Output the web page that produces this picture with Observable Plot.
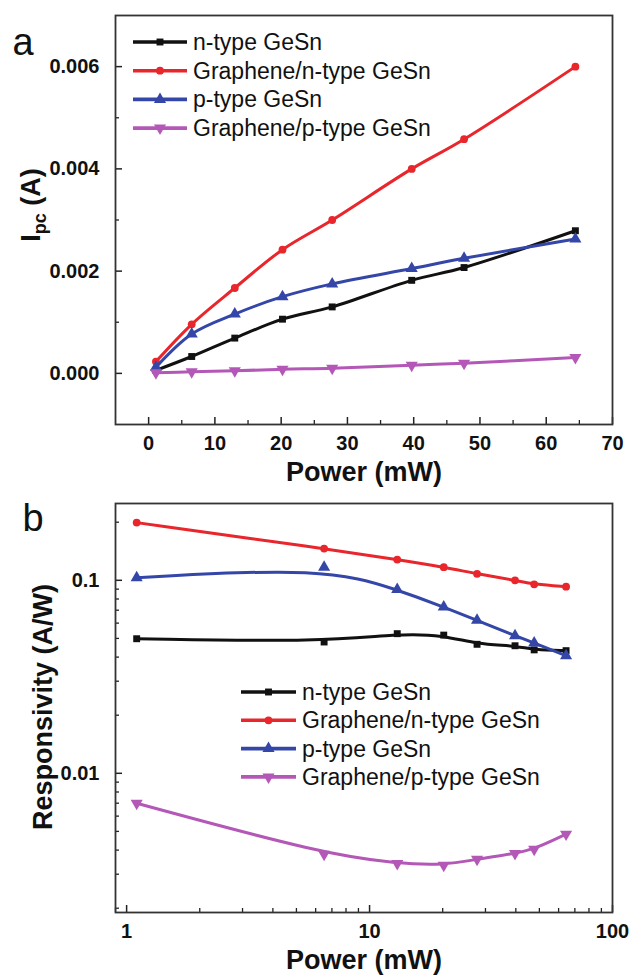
<!DOCTYPE html>
<html><head><meta charset="utf-8">
<script src="https://cdn.jsdelivr.net/npm/d3@7"></script>
<script src="https://cdn.jsdelivr.net/npm/@observablehq/plot@0.6"></script>
<style>
body{margin:0;background:#fff}
#chart{width:631px}
#chart svg{display:block}
</style>
</head><body><div id="chart"></div>
<script>
// ---- data ----
const power = [1.1, 6.5, 13.0, 20.2, 27.7, 39.7, 47.6, 64.4];
const seriesNames = ["n-type GeSn", "Graphene/n-type GeSn", "p-type GeSn", "Graphene/p-type GeSn"];
const seriesColors = ["#111111", "#e8262b", "#3446a8", "#b458b8"];
const ipcN   = [0.00006, 0.00033, 0.00069, 0.00106, 0.00130, 0.00182, 0.00207, 0.00279];
const ipcGrN = [0.00023, 0.00096, 0.00167, 0.00242, 0.00300, 0.00400, 0.00458, 0.00600];
const ipcP   = [0.00012, 0.00077, 0.00116, 0.00150, 0.00175, 0.00205, 0.00225, 0.00263];
const ipcGrP = [0.00001, 0.00003, 0.00005, 0.00008, 0.00010, 0.00016, 0.00020, 0.00031];
const respN   = [0.0498, 0.0479, 0.0529, 0.0520, 0.0466, 0.0458, 0.0436, 0.0432];
const respGrN = [0.199, 0.146, 0.128, 0.117, 0.108, 0.100, 0.0953, 0.0927];
const respP   = [0.103, 0.117, 0.0895, 0.0727, 0.062, 0.0516, 0.0473, 0.0407];
const respGrP = [0.00699, 0.00381, 0.00341, 0.00334, 0.00359, 0.00384, 0.00404, 0.00484];

const ticksAX = [0, 10, 20, 30, 40, 50, 60, 70];
const minorAX = [5, 15, 25, 35, 45, 55, 65];
const ticksAY = [0, 0.002, 0.004, 0.006];
const minorAY = [0.001, 0.003, 0.005];
const ticksBX = [1, 10, 100];
const minorBX = [0.9, 2, 3, 4, 5, 6, 7, 8, 9, 20, 30, 40, 50, 60, 70, 80, 90];
const ticksBY = [0.01, 0.1];
const minorBY = [0.002, 0.003, 0.004, 0.005, 0.006, 0.007, 0.008, 0.009, 0.02, 0.03, 0.04, 0.05, 0.06, 0.07, 0.08, 0.09, 0.2];

// ---- symbols ----
const sqrt3 = Math.sqrt(3);
const triangleDown = {
  draw(context, size) {
    const y = Math.sqrt(size / (sqrt3 * 3));
    context.moveTo(0, y * 2);
    context.lineTo(-sqrt3 * y, -y);
    context.lineTo(sqrt3 * y, -y);
    context.closePath();
  }
};
const seriesSymbols = [d3.symbolSquare, d3.symbolCircle, d3.symbolTriangle, triangleDown];
const seriesR = [3.9, 3.9, 4.5, 4.5];

const FONT = "'Liberation Sans', Arial, Helvetica, sans-serif";
const ipcSeries = [ipcN, ipcGrN, ipcP, ipcGrP];
const respSeries = [respN, respGrN, respP, respGrP];

function table(series) {
  const rows = [];
  series.forEach((vals, i) => vals.forEach((v, j) => rows.push({series: seriesNames[i], power: power[j], value: v})));
  return rows;
}

function seriesMarks(rows, curve) {
  const marks = [];
  seriesNames.forEach((name, i) => {
    const d = rows.filter(r => r.series === name);
    marks.push(Plot.line(d, {x: "power", y: "value", stroke: seriesColors[i], strokeWidth: 3, curve}));
    marks.push(Plot.dot(d, {x: "power", y: "value", fill: seriesColors[i], stroke: "none", symbol: seriesSymbols[i], r: seriesR[i]}));
  });
  return marks;
}

function axisMarks(xt, xm, yt, ym, xfmt, yfmt) {
  const txt = {fontSize: 20, fontWeight: "bold", fill: "#111"};
  const blank = () => "";
  return [
    // tick labels
    Plot.axisX({ticks: xt, tickSize: 0, tickPadding: 11, tickFormat: xfmt, label: null, ...txt}),
    Plot.axisY({ticks: yt, tickSize: 0, tickPadding: 16, tickFormat: yfmt, label: null, ...txt}),
    // inward tick marks
    Plot.axisX({ticks: xt, tickSize: 7, dy: -7, tickFormat: blank, label: null, stroke: "#222", strokeWidth: 1.5}),
    Plot.axisX({ticks: xm, tickSize: 4, dy: -4, tickFormat: blank, label: null, stroke: "#222", strokeWidth: 1.3}),
    Plot.axisY({ticks: yt, tickSize: 7, dx: 7, tickFormat: blank, label: null, stroke: "#222", strokeWidth: 1.5}),
    Plot.axisY({ticks: ym, tickSize: 4, dx: 4, tickFormat: blank, label: null, stroke: "#222", strokeWidth: 1.3})
  ];
}

function addLegend(svg, x1, x2, tx, y0, dy) {
  const g = d3.select(svg).append("g").attr("font-family", FONT).attr("font-size", 23).attr("text-anchor", "start");
  seriesNames.forEach((name, i) => {
    const y = y0 + i * dy;
    g.append("line").attr("x1", x1).attr("x2", x2).attr("y1", y).attr("y2", y)
      .attr("stroke", seriesColors[i]).attr("stroke-width", 3.6);
    g.append("path").attr("transform", `translate(${(x1 + x2) / 2},${y})`)
      .attr("d", d3.symbol(seriesSymbols[i], Math.PI * seriesR[i] * seriesR[i])())
      .attr("fill", seriesColors[i]);
    g.append("text").attr("x", tx).attr("y", y).attr("dy", "0.35em").attr("fill", "#111").text(name);
  });
}

function addYTitle(svg, x, y, parts) {
  const t = d3.select(svg).append("text")
    .attr("transform", `translate(${x},${y}) rotate(-90)`)
    .attr("text-anchor", "middle").attr("font-family", FONT)
    .attr("font-size", 27).attr("font-weight", "bold").attr("fill", "#111");
  parts.forEach(p => {
    const s = t.append("tspan").text(p.text);
    if (p.size) s.attr("font-size", p.size);
    if (p.dy) s.attr("dy", p.dy);
  });
}

const chart = document.getElementById("chart");

// ---- panel a ----
const plotA = Plot.plot({
  width: 631, height: 485,
  marginLeft: 115, marginRight: 19, marginTop: 15, marginBottom: 61,
  style: {fontFamily: FONT, background: "#fff", color: "#222", overflow: "visible"},
  x: {domain: [-5, 70]},
  y: {domain: [-0.001, 0.007]},
  marks: [
    ...axisMarks(ticksAX, minorAX, ticksAY, minorAY, d => String(d), d3.format(".3f")),
    ...seriesMarks(table(ipcSeries), "catmull-rom"),
    Plot.frame({stroke: "#333", strokeWidth: 1.8}),
    Plot.text(["Power (mW)"], {frameAnchor: "bottom", dy: 48, lineAnchor: "middle", fontSize: 27, fontWeight: "bold", fill: "#111"}),
    Plot.text(["a"], {frameAnchor: "top-left", dx: -103, dy: 27, textAnchor: "start", lineAnchor: "middle", fontSize: 38, fill: "#111"})
  ]
});
chart.appendChild(plotA);
addLegend(plotA, 133, 187, 193, 42, 28.7);
addYTitle(plotA, 40, 205, [{text: "I"}, {text: "pc", size: 18, dy: 6}, {text: " (A)", dy: -6}]);

// ---- panel b ----
const plotB = Plot.plot({
  width: 631, height: 492,
  marginLeft: 115, marginRight: 19, marginTop: 18, marginBottom: 65,
  style: {fontFamily: FONT, background: "#fff", color: "#222", overflow: "visible"},
  x: {type: "log", domain: [0.9, 100]},
  y: {type: "log", domain: [0.0019, 0.25]},
  marks: [
    ...axisMarks(ticksBX, minorBX, ticksBY, minorBY, d => String(d), d => String(d)),
    ...seriesMarks(table(respSeries), "basis"),
    Plot.frame({stroke: "#333", strokeWidth: 1.8}),
    Plot.text(["Power (mW)"], {frameAnchor: "bottom", dy: 48, lineAnchor: "middle", fontSize: 27, fontWeight: "bold", fill: "#111"}),
    Plot.text(["b"], {frameAnchor: "top-left", dx: -93, dy: 15, textAnchor: "start", lineAnchor: "middle", fontSize: 38, fill: "#111"})
  ]
});
chart.appendChild(plotB);
addLegend(plotB, 241, 296, 302, 207, 28.3);
addYTitle(plotB, 52, 222, [{text: "Responsivity (A/W)"}]);
</script>
</body></html>
